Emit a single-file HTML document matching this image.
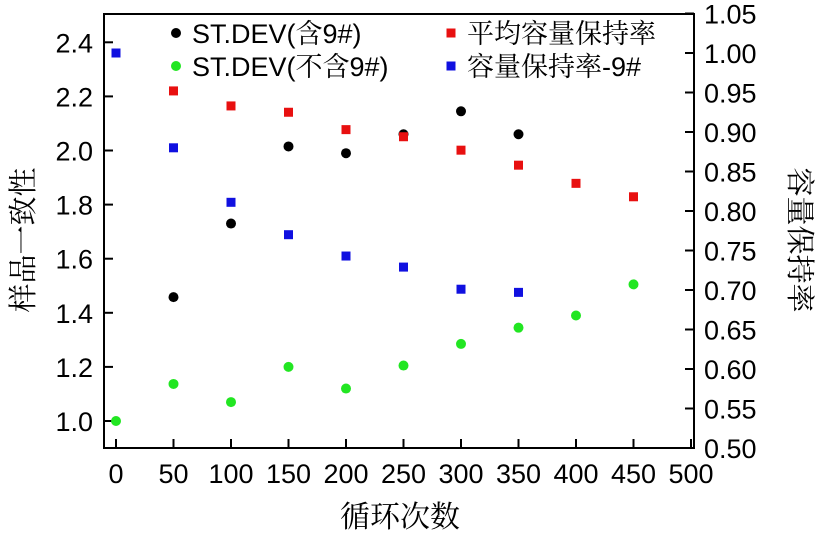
<!DOCTYPE html>
<html><head><meta charset="utf-8"><style>
body{margin:0;background:#fff;}
text{font-family:"Liberation Sans","Noto Serif CJK SC",serif;}
</style></head><body>
<svg id="c" width="816" height="535" xmlns="http://www.w3.org/2000/svg"></svg>
<script>
const cycles=[0,50,100,150,200,250,300,350,400,450];
const stdevWith=[null,1.458,1.73,2.015,1.99,2.06,2.145,2.06,null,null];
const stdevWithout=[1.0,1.137,1.07,1.2,1.12,1.205,1.285,1.345,1.39,1.505];
const avgRetention=[null,0.952,0.933,0.925,0.903,0.894,0.877,0.858,0.835,0.818];
const retention9=[1.0,0.88,0.811,0.77,0.743,0.729,0.701,0.697,null,null];
const xTicks=[0,50,100,150,200,250,300,350,400,450,500];
const yLeftTicks=["1.0","1.2","1.4","1.6","1.8","2.0","2.2","2.4"];
const yRightTicks=["0.50","0.55","0.60","0.65","0.70","0.75","0.80","0.85","0.90","0.95","1.00","1.05"];
const svg=document.getElementById('c');
const NS='http://www.w3.org/2000/svg';
function mk(t,a,p){const e=document.createElementNS(NS,t);for(const k in a)e.setAttribute(k,a[k]);(p||svg).appendChild(e);return e;}
const X=v=>116+v*1.15;
const YL=v=>421-(v-1)*270.5;
const YR=v=>53+(1-v)*790;
let f=mk('rect',{x:104,y:14,width:590,height:434,fill:'none',stroke:'#000','stroke-width':2});


xTicks.forEach(v=>{
 let l=mk('line',{x1:X(v),x2:X(v),y1:439,y2:448,stroke:'#000','stroke-width':2});
 
 
 let t=mk('text',{x:X(v),y:483,'font-size':27,'text-anchor':'middle'});t.textContent=v;
 
 
});
yLeftTicks.forEach(s=>{
 const v=parseFloat(s);
 let l=mk('line',{x1:104,x2:113,y1:YL(v),y2:YL(v),stroke:'#000','stroke-width':2});
 
 
 let t=mk('text',{x:93,y:YL(v)+10,'font-size':27,'text-anchor':'end'});t.textContent=s;
 
 
});
yRightTicks.forEach(s=>{
 const v=parseFloat(s);
 let l=mk('line',{x1:685,x2:694,y1:YR(v),y2:YR(v),stroke:'#000','stroke-width':2});
 
 
 let t=mk('text',{x:704,y:YR(v)+10,'font-size':27});t.textContent=s;
 
 
});
function dots(arr,Y,color,name,sq){
 arr.forEach((v,i)=>{if(v==null)return;
  let e=sq?mk('rect',{x:X(cycles[i])-4.5,y:Y(v)-4.5,width:9,height:9,fill:color}):mk('circle',{cx:X(cycles[i]),cy:Y(v),r:5,fill:color});
  
  
 });
}
dots(stdevWith,YL,'#000','point-stdev-with-9',false);
dots(stdevWithout,YL,'#22e622','point-stdev-without-9',false);
dots(avgRetention,YR,'#e81010','point-avg-retention',true);
dots(retention9,YR,'#1010e0','point-retention-9',true);
const leg=[[176,33,'#000','ST.DEV(含9#)',false],[176,66,'#22e622','ST.DEV(不含9#)',false],[451,33,'#e81010','平均容量保持率',true],[451,66,'#1010e0','容量保持率-9#',true]];
leg.forEach(L=>{
 let m=L[4]?mk('rect',{x:L[0]-4.5,y:L[1]-4.5,width:9,height:9,fill:L[2]}):mk('circle',{cx:L[0],cy:L[1],r:5,fill:L[2]});
 
 
 let t=mk('text',{x:L[0]+16,y:L[1]+10,'font-size':27});t.textContent=L[3];
 
 
});
let xt=mk('text',{x:400,y:527,'font-size':30,'text-anchor':'middle'});xt.textContent='循环次数';


let yl=mk('text',{x:0,y:0,'font-size':29,'text-anchor':'middle',transform:'translate(33,240) rotate(-90)'});yl.textContent='样品一致性';


let yr=mk('text',{x:0,y:0,'font-size':29,'text-anchor':'middle',transform:'translate(790,240) rotate(90)'});yr.textContent='容量保持率';


</script>
</body></html>
